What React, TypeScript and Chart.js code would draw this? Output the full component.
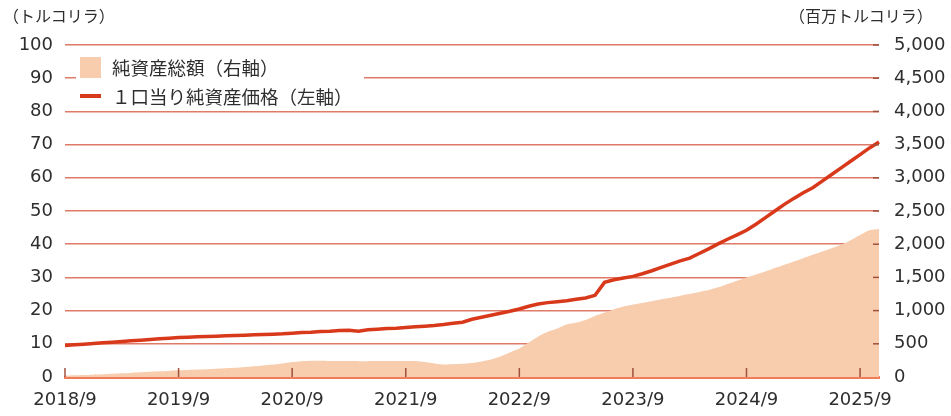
import React, { useEffect, useRef } from "react";
import { Chart, registerables } from "chart.js";

Chart.register(...registerables);

// Monthly from 2018/9 to 2025/11
const startYear = 2018;
const startMonth = 9;

// 1口当り純資産価格 (左軸, トルコリラ)
const navPerUnit = [
  9.5, 9.7, 9.9, 10.1, 10.3, 10.5, 10.7, 10.9, 11.1, 11.3, 11.5, 11.7, 11.9,
  12.0, 12.1, 12.2, 12.3, 12.4, 12.5, 12.6, 12.7, 12.8, 12.9, 13.0, 13.2,
  13.4, 13.5, 13.7, 13.8, 14.0, 14.1, 13.8, 14.2, 14.4, 14.6, 14.7, 14.9,
  15.1, 15.3, 15.5, 15.8, 16.2, 16.5, 17.4, 18.0, 18.6, 19.2, 19.8, 20.5,
  21.3, 22.0, 22.4, 22.7, 23.0, 23.4, 23.8, 24.6, 28.5, 29.3, 29.8, 30.3,
  31.1, 32.0, 33.0, 34.0, 35.0, 35.8, 37.2, 38.6, 40.1, 41.5, 42.8, 44.2,
  46.0, 48.0, 50.0, 52.0, 53.8, 55.5, 57.0, 59.0, 61.0, 63.0, 65.0, 67.0, 69.0, 70.8,
];

// 純資産総額 (右軸, 百万トルコリラ)
const totalNetAssets = [
  20, 25, 30, 35, 40, 48, 55, 62, 70, 78, 85, 92, 100,
  105, 112, 118, 125, 132, 138, 150, 162, 175, 188, 205, 225,
  238, 245, 245, 242, 240, 240, 238, 238, 240, 240, 242, 242,
  240, 225, 205, 190, 192, 198, 210, 235, 265, 310, 370, 430,
  520, 610, 680, 730, 790, 820, 860, 920, 970, 1020, 1060, 1090,
  1115, 1140, 1170, 1195, 1225, 1250, 1280, 1310, 1350, 1400, 1450, 1500,
  1545, 1590, 1640, 1690, 1740, 1790, 1840, 1890, 1940, 1990, 2060, 2140, 2210, 2230,
];

const leftTicks = [0, 10, 20, 30, 40, 50, 60, 70, 80, 90, 100];
const rightTicks = [0, 500, 1000, 1500, 2000, 2500, 3000, 3500, 4000, 4500, 5000];

const leftUnit = "（トルコリラ）";
const rightUnit = "（百万トルコリラ）";
const legendArea = "純資産総額（右軸）";
const legendLine = "１口当り純資産価格（左軸）";

const monthLabels: string[] = navPerUnit.map((_, i) => {
  const total = startMonth - 1 + i;
  const y = startYear + Math.floor(total / 12);
  const m = (total % 12) + 1;
  return `${y}/${m}`;
});

const LINE_COLOR = "#d9391b";
const AREA_COLOR = "#f8cdae";
const GRID_COLOR = "#df7a68";
const AXIS_COLOR = "#f07c58";
const TEXT_COLOR = "#2e2e2e";
const TICK_FONT = { family: "'DejaVu Sans', sans-serif", size: 18 };
const JP_FONT = "'Noto Sans CJK JP', sans-serif";

const tickMarksPlugin = {
  id: "tickMarks",
  afterDatasetsDraw(chart: any) {
    const { ctx, chartArea, scales } = chart;
    const x = scales.x;
    const y1 = scales.y1;
    ctx.save();
    ctx.strokeStyle = "#a0503e";
    ctx.lineWidth = 1.5;
    monthLabels.forEach((lab, i) => {
      if (lab.endsWith("/9")) {
        const px = x.getPixelForValue(i);
        ctx.beginPath();
        ctx.moveTo(px, chartArea.bottom);
        ctx.lineTo(px, chartArea.bottom - 9);
        ctx.stroke();
      }
    });
    rightTicks.forEach((v) => {
      if (v === 0) return;
      const py = y1.getPixelForValue(v);
      ctx.beginPath();
      ctx.moveTo(chartArea.right - 6, py);
      ctx.lineTo(chartArea.right, py);
      ctx.stroke();
    });
    ctx.restore();
  },
};

export default function App() {
  const canvasRef = useRef<HTMLCanvasElement | null>(null);

  useEffect(() => {
    if (!canvasRef.current) return;
    const chart = new Chart(canvasRef.current, {
      type: "line",
      data: {
        labels: monthLabels,
        datasets: [
          {
            label: legendLine,
            data: navPerUnit,
            yAxisID: "y",
            borderColor: LINE_COLOR,
            borderWidth: 3.5,
            pointRadius: 0,
            tension: 0,
            fill: false,
            order: 0,
          },
          {
            label: legendArea,
            data: totalNetAssets,
            yAxisID: "y1",
            borderColor: AREA_COLOR,
            borderWidth: 0,
            backgroundColor: AREA_COLOR,
            pointRadius: 0,
            tension: 0.2,
            fill: "origin",
            order: 1,
          },
        ],
      },
      options: {
        animation: false,
        responsive: true,
        maintainAspectRatio: false,
        layout: { padding: { top: 45, left: 0, right: 0, bottom: 0 } },
        plugins: {
          legend: { display: false },
          tooltip: { enabled: false },
        },
        scales: {
          x: {
            type: "category",
            offset: false,
            grid: { display: false, drawTicks: false },
            border: { display: true, color: AXIS_COLOR, width: 3 },
            ticks: {
              autoSkip: false,
              maxRotation: 0,
              minRotation: 0,
              padding: 13,
              color: TEXT_COLOR,
              font: TICK_FONT,
              callback: (_v: any, i: number) =>
                monthLabels[i].endsWith("/9") ? monthLabels[i] : "",
            },
            afterFit: (s: any) => {
              s.height = 39;
            },
          },
          y: {
            position: "left",
            min: 0,
            max: 100,
            afterBuildTicks: (s: any) => {
              s.ticks = leftTicks.map((v) => ({ value: v }));
            },
            grid: {
              drawTicks: false,
              color: (c: any) => (c.tick && c.tick.value === 0 ? AXIS_COLOR : GRID_COLOR),
              lineWidth: (c: any) => (c.tick && c.tick.value === 0 ? 3 : 1.5),
            },
            border: { display: false },
            ticks: {
              padding: 12,
              color: TEXT_COLOR,
              font: TICK_FONT,
            },
            afterFit: (s: any) => {
              s.width = 65;
            },
          },
          y1: {
            position: "right",
            min: 0,
            max: 5000,
            afterBuildTicks: (s: any) => {
              s.ticks = rightTicks.map((v) => ({ value: v }));
            },
            grid: { display: false, drawTicks: false },
            border: { display: false },
            ticks: {
              padding: 15,
              color: TEXT_COLOR,
              font: TICK_FONT,
              callback: (v: any) => Number(v).toLocaleString("en-US"),
            },
            afterFit: (s: any) => {
              s.width = 72;
            },
          },
        },
      },
      plugins: [tickMarksPlugin],
    });
    return () => chart.destroy();
  }, []);

  const jp: React.CSSProperties = {
    position: "absolute",
    fontFamily: JP_FONT,
    color: TEXT_COLOR,
    whiteSpace: "nowrap",
    lineHeight: 1,
  };

  return (
    <div
      style={{
        position: "absolute",
        left: 0,
        top: 0,
        width: 951,
        height: 416,
        background: "#ffffff",
        overflow: "hidden",
      }}
    >
      <canvas ref={canvasRef} style={{ position: "absolute", left: 0, top: 0 }} />
      <div style={{ ...jp, left: 3, top: 7, fontSize: 16 }}>{leftUnit}</div>
      <div style={{ ...jp, left: 789, top: 7, fontSize: 16 }}>{rightUnit}</div>
      <div
        style={{
          position: "absolute",
          left: 76,
          top: 50,
          width: 288,
          height: 58,
          background: "#ffffff",
        }}
      >
        <div
          style={{
            position: "absolute",
            left: 4,
            top: 7,
            width: 21,
            height: 21,
            background: AREA_COLOR,
          }}
        />
        <div style={{ ...jp, left: 36, top: 8, fontSize: 18.5 }}>{legendArea}</div>
        <div
          style={{
            position: "absolute",
            left: 4,
            top: 44,
            width: 21,
            height: 4,
            background: LINE_COLOR,
          }}
        />
        <div style={{ ...jp, left: 36, top: 37, fontSize: 18.5 }}>{legendLine}</div>
      </div>
    </div>
  );
}
